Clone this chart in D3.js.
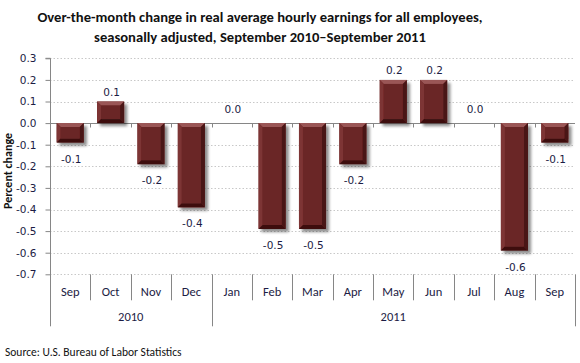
<!DOCTYPE html>
<html><head><meta charset="utf-8">
<script src="https://cdn.jsdelivr.net/npm/d3@7"></script>
<style>body{margin:0;background:#fff}svg{display:block}</style>
</head><body>
<svg id="c" width="580" height="363"></svg>
<script>
const months = ["Sep","Oct","Nov","Dec","Jan","Feb","Mar","Apr","May","Jun","Jul","Aug","Sep"];
const years = ["2010","2011"];
const yearStart = [0, 4];
const yearEnd = [4, 13];
const values = [-0.09, 0.1, -0.19, -0.39, 0.0, -0.49, -0.49, -0.19, 0.2, 0.2, 0.0, -0.59, -0.09];
const yTicks = [0.3,0.2,0.1,0.0,-0.1,-0.2,-0.3,-0.4,-0.5,-0.6,-0.7];
const titleLines = ["Over-the-month change in real average hourly earnings for all employees,","seasonally adjusted, September 2010\u2013September 2011"];
const yTitle = "Percent change";
const source = "Source: U.S. Bureau of Labor Statistics";

const svg = d3.select("#c");
const L = 50, R = 575, T = 58.3, B = 274.3;
const x = d3.scaleBand().domain(d3.range(months.length)).range([L, R]).paddingInner(0.33).paddingOuter(0.165);
const xb = d3.scaleBand().domain(d3.range(months.length)).range([L, R]);
const y = d3.scaleLinear().domain([-0.7, 0.3]).range([B, T]);
const f1 = d3.format(".1f");
const fmt = d => f1(d).replace("\u2212", "-");
const txtCol = "#1c1c44";
const sans = "Carlito, Calibri, Lato, 'Open Sans', sans-serif";
const tah = "Tahoma, 'DejaVu Sans', Verdana, sans-serif";

// defs
const defs = svg.append("defs");
const f = defs.append("filter").attr("id","sh").attr("x","-30%").attr("y","-30%").attr("width","170%").attr("height","170%");
f.append("feGaussianBlur").attr("in","SourceAlpha").attr("stdDeviation",1.6);
f.append("feOffset").attr("dx",3).attr("dy",3).attr("result","o");
f.append("feComponentTransfer").append("feFuncA").attr("type","linear").attr("slope",0.45);
const m = f.append("feMerge"); m.append("feMergeNode"); m.append("feMergeNode").attr("in","SourceGraphic");

// title
svg.append("g").selectAll("text").data(titleLines).join("text")
  .attr("x", 260).attr("y",(d,i)=>22 + i*20).attr("text-anchor","middle")
  .attr("font-family", sans).attr("font-weight","bold").attr("font-size",14.6).attr("fill","#111")
  .text(d=>d);

// gridlines
svg.append("g").selectAll("line").data(yTicks.filter(d=>d!==0)).join("line")
  .attr("x1", L).attr("x2", R).attr("y1", d=>Math.round(y(d))+0.5).attr("y2", d=>Math.round(y(d))+0.5)
  .attr("stroke","#c8c8c8").attr("stroke-dasharray","1.5,2").attr("stroke-width",1);

// y axis
const ya = svg.append("g").attr("transform",`translate(${L+0.5},0)`)
  .call(d3.axisLeft(y).tickValues(yTicks).tickFormat(fmt).tickSize(5).tickPadding(9));
ya.select(".domain").attr("stroke","#868686").attr("d", `M-5,${y(0.3)}H0V${B+52}`);
ya.selectAll(".tick line").attr("stroke","#868686");
ya.selectAll(".tick text").attr("font-family", tah).attr("font-size",10.5).attr("fill",txtCol);

// zero line with ticks down
const zy = Math.round(y(0))+0.5;
svg.append("line").attr("x1",L).attr("x2",R).attr("y1",zy).attr("y2",zy).attr("stroke","#868686");
svg.append("g").selectAll("line").data(d3.range(1, months.length)).join("line")
  .attr("x1", d=>Math.round(xb(d))+0.5).attr("x2", d=>Math.round(xb(d))+0.5)
  .attr("y1", zy).attr("y2", zy+4).attr("stroke","#868686");

// bottom category separators
const sepData = d3.range(1, months.length+1);
svg.append("g").selectAll("line").data(sepData).join("line")
  .attr("x1", d=> d===months.length ? R+0.5 : Math.round(xb(d))+0.5)
  .attr("x2", d=> d===months.length ? R+0.5 : Math.round(xb(d))+0.5)
  .attr("y1", B)
  .attr("y2", d=> (yearStart.includes(d) || d===months.length) ? B+52 : B+26)
  .attr("stroke","#868686");

svg.append("g").selectAll("text").data(months).join("text")
  .attr("x",(d,i)=>xb(i)+xb.bandwidth()/2).attr("y", B+22).attr("text-anchor","middle")
  .attr("font-family", sans).attr("font-size",12.5).attr("fill",txtCol).text(d=>d);

svg.append("g").selectAll("text").data(years).join("text")
  .attr("x",(d,i)=>(xb(yearStart[i]) + (yearEnd[i]===months.length? R : xb(yearEnd[i])))/2)
  .attr("y", B+47).attr("text-anchor","middle")
  .attr("font-family", sans).attr("font-size",12.5).attr("fill",txtCol).text(d=>d);

// bars
const bars = svg.append("g").selectAll("g").data(values).join("g").attr("filter","url(#sh)");
bars.each(function(v,i){
  if (Math.abs(v) < 0.005) return;
  const g = d3.select(this);
  const x0 = x(i), w = x.bandwidth();
  const y0 = y(Math.max(v,0)), y1 = y(Math.min(v,0));
  const h = y1 - y0, b = Math.min(4, h/2 - 0.5);
  g.append("rect").attr("x",x0).attr("y",y0).attr("width",w).attr("height",h).attr("fill","#6a2626");
  const x1 = x0 + w;
  const poly = (pts, c) => g.append("polygon").attr("points", pts.map(p=>p.join(",")).join(" ")).attr("fill", c);
  poly([[x0,y0],[x1,y0],[x1-b,y0+b],[x0+b,y0+b]], "#9a5656");
  poly([[x0,y0],[x0+b,y0+b],[x0+b,y1-b],[x0,y1]], "#7d3434");
  poly([[x1,y0],[x1,y1],[x1-b,y1-b],[x1-b,y0+b]], "#4a1717");
  poly([[x0,y1],[x1,y1],[x1-b,y1-b],[x0+b,y1-b]], "#3c1010");
  g.append("rect").attr("x",x0+b).attr("y",y0+b).attr("width",Math.max(0,w-2*b)).attr("height",Math.max(0,h-2*b)).attr("fill","#6a2626");
});

// data labels
svg.append("g").selectAll("text").data(values).join("text")
  .attr("x",(d,i)=>x(i)+x.bandwidth()/2+1)
  .attr("y", d=> d < -0.005 ? y(d)+20 : (d > 0.005 ? y(d)-6 : y(0)-10))
  .attr("text-anchor","middle").attr("font-family", tah).attr("font-size",10.5).attr("fill",txtCol)
  .text(d=>fmt(d));

// y title
svg.append("text").attr("transform","translate(12,171) rotate(-90)").attr("text-anchor","middle")
  .attr("font-family", sans).attr("font-weight","bold").attr("font-size",12).attr("fill","#111").text(yTitle);

// source
svg.append("text").attr("x",5).attr("y",356).attr("font-family", sans).attr("font-size",11.5).attr("fill","#111").text(source);
</script>
</body></html>
